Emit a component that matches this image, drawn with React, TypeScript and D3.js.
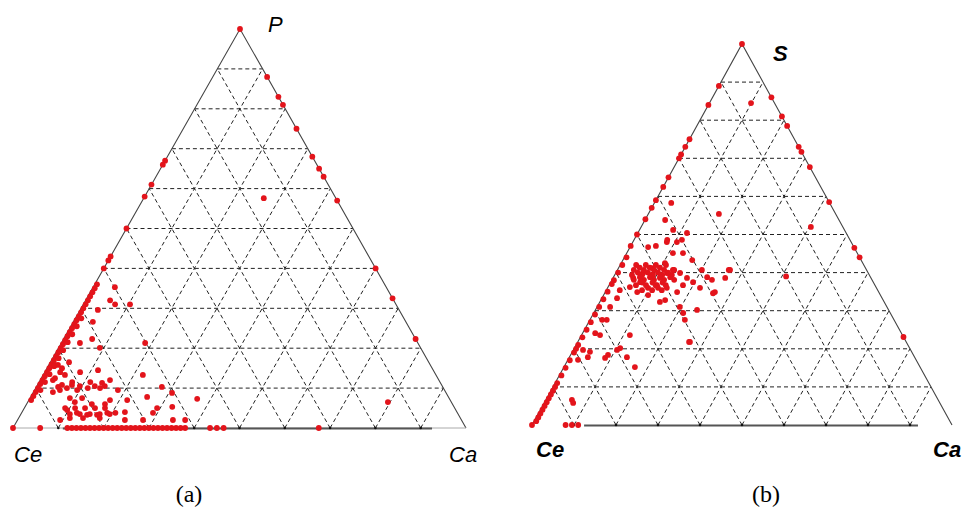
import React, { useEffect } from "react";
import * as d3 from "d3";

// ternary data, every point is [top %, Ca %] (Ce = 100 - top - Ca)
// chart (a): top = P
const aEdgeCe = [
  [67, 0], [66, 0], [61, 0], [58, 0], [50, 0], [43, 0], [42, 0], [40, 0],
  [36, 0.5], [35, 0.5], [34, 0.5], [33, 0.5], [32, 0.5], [31, 0.5], [30, 0.5], [29, 0.5],
  [28, 0.5], [27, 0.5], [26, 0.5], [25, 0.5], [24, 0.5], [23, 0.5], [22, 0.5], [21, 0.5],
  [20, 0.5], [19, 0.5], [18, 0.5], [17, 0.5], [16, 0.5], [15, 0.5], [14, 0.5], [13, 0.5],
  [12, 0.5], [11, 0.5], [10, 0.5], [9, 0.5], [8, 0.5], [7, 0.5],
  [27.5, 1.3], [25.5, 1.3], [23.5, 1.3], [21.5, 1.3], [19.5, 1.3], [17.5, 1.3],
  [15.5, 1.3], [13.5, 1.3], [11.5, 1.3], [9.5, 1.3],
];
const aEdgeCa = [
  [88, 12], [83, 17], [81, 19], [75, 25], [68, 32], [65, 35], [63, 37], [57, 43],
  [40, 60], [32.5, 67.5], [22.3, 77.7],
];
const aBase = [
  [0, 6], [0, 12], [0, 13], [0, 14], [0, 15], [0, 16], [0, 17], [0, 18], [0, 19],
  [0, 20], [0, 21], [0, 22], [0, 23], [0, 24], [0, 25], [0, 26], [0, 27], [0, 28],
  [0, 29], [0, 30], [0, 31], [0, 32], [0, 33], [0, 34], [0, 35], [0, 36], [0, 37],
  [0, 38], [0, 43.5], [0, 45], [0, 46.5], [0, 67.5],
];
const aVertices = [[100, 0], [0, 0]];
const aInner = [
  [31, 7], [31, 10.3], [29.6, 3.9], [26.6, 4.3], [21.3, 4.1], [22.3, 6.3], [20.1, 9.1],
  [21.3, 18.5], [16.5, 4.1], [15, 3.3], [14, 7.8], [14.5, 11.5], [12, 15.4], [13.3, 22],
  [12, 2.8], [10.3, 4.8], [9, 4.3], [10, 6.9], [9.5, 9.4], [10, 11.5], [10, 14.2],
  [9.5, 18.4], [10.3, 27.7], [8.8, 30.7], [7.8, 25.7], [7, 21.7], [7.5, 11.5], [7, 17.9],
  [7.3, 37], [5.3, 32.5], [5, 29.3], [3.8, 29], [4, 22.7], [4.5, 9.7], [3.8, 12.2],
  [3.3, 14.7], [3.3, 16.9], [3.8, 18.9], [3.8, 20.7], [2, 9.4], [2.5, 11.3], [2.5, 14.2],
  [2.5, 17.9], [2, 23.7], [2, 27.7], [2, 34.3], [2, 37], [15.8, 1.3], [13.3, 4.8],
  [11.5, 7.3], [11.5, 11.3], [11.3, 14], [7.5, 8.8], [6.5, 10.4], [6, 14.4], [6, 17.3],
  [35.3, 4.8], [32, 5.4], [57.6, 26.5], [6.5, 79.5],
  [5, 9], [5, 11.2], [5, 13.4], [5, 15.6], [5, 17.8], [3.5, 10.8], [3.5, 13], [3.5, 15.2],
  [3.5, 17.4], [3.5, 19.6], [15.8, 2], [14, 3.4], [12.5, 3], [10.8, 5.4], [10.8, 7.6],
  [9.5, 5.6], [10.5, 9.5], [10.5, 12.8], [10.5, 15],
];

// chart (b): top = S
const bEdgeCe = [
  [89, 0], [84, 0], [75, 0], [73, 0], [71, 0], [70, 0], [65, 0], [62.5, 0], [59, 0],
  [57, 0], [54, 0], [50, 0], [47, 0], [44, 0.5], [42, 0.5], [40, 0.5], [38, 0.5], [37, 0.5],
  [35, 0.5], [33, 0.5], [31, 0.5], [29, 0.5], [27, 0.5], [25, 0.5], [23, 0.5], [21, 0.5],
  [19, 0.5], [17, 0.5], [15, 0.5], [13, 0.5], [11, 0.5], [9, 0.5], [7, 0.5], [5, 0.5],
  [3, 0.5], [1, 0.5], [20, 0.5], [10, 0.5], [8, 0.5], [6, 0.5], [4, 0.5], [2, 0.5],
];
const bEdgeCa = [
  [86, 14], [81, 19], [78.5, 21.5], [73, 27], [71.7, 28.3], [67.7, 32.3], [58.5, 41.5],
  [46.5, 53.5], [44, 56], [23.1, 76.9],
];
const bBase = [[0, 8], [0, 9.5], [0, 11]];
const bVertices = [[100, 0], [0, 0]];
const bInner = [
  [47, 6], [46.7, 4.3], [48, 8.1], [48, 10.5], [50.4, 11.7], [45.1, 11], [45.1, 13.4],
  [43.3, 16.5], [42.5, 10.4], [41.2, 8], [39.9, 6.5], [38.6, 4.8], [36.2, 5.2], [37.5, 7],
  [39.4, 9.1], [38.6, 11.2], [36.7, 11.4], [39.9, 12.2], [40.7, 13.2], [39.9, 15.3],
  [38.6, 17.6], [37.5, 19.6], [36.7, 17.6], [40.7, 20.1], [38.8, 22.3], [38.1, 23.8],
  [40.7, 26.8], [38.6, 26.7], [36, 22], [34.9, 26.1], [34.9, 17.1], [32.8, 15.3],
  [32.3, 14.3], [34.1, 10.6], [34.9, 7.6], [36, 14.1], [31, 19.7], [29.4, 21.3],
  [27.6, 22.6], [30.2, 24.2], [21.8, 26.7], [35.4, 3.2], [33.3, 3.6], [31, 3.1],
  [27.6, 2.9], [27.6, 4], [24.1, 3], [23.6, 4.4], [23.6, 11.5], [19.7, 2.3], [19.2, 4.2],
  [18.4, 8.9], [17.6, 8.6], [19.7, 10.4], [17.8, 13.7], [15.2, 16.9], [17.1, 2.4],
  [6.6, 6.2], [5.8, 6.9], [17.8, 4.4], [20.2, 10.9],
  [58.3, 4], [53.8, 4.8], [51.2, 8], [48.6, 11.4], [48.6, 7.9],
  [84.5, 9.9], [52, 40.4], [39, 41], [55.4, 16.8], [21.8, 26.5], [40.7, 26.5], [34.6, 25.8],
];
// the solid core of the (b) cluster
const bBlob = [
  [42, 3.8], [42, 6.1], [42, 8.5], [42, 10.9],
  [40.7, 3.9], [40.7, 6.3], [40.7, 8.7], [40.7, 11.1], [40.7, 13.5],
  [39.4, 4.1], [39.4, 6.5], [39.4, 8.9], [39.4, 11.3], [39.4, 13.6],
  [38.1, 5.2], [38.1, 7.6], [38.1, 10], [38.1, 12.4], [38.1, 14.8],
  [36.7, 6.4], [36.7, 8.8], [36.7, 11.1], [36.7, 13.5],
  [35.4, 8.5], [35.4, 10.9], [35.4, 13.2],
  [41.3, 5], [41.3, 7.4], [41.3, 9.8], [40, 5.2], [40, 7.6], [40, 10], [40, 12.4],
  [38.8, 6.3], [38.8, 8.7], [38.8, 11.1], [38.8, 13.5], [37.4, 7.6], [37.4, 10],
  [37.4, 12.4], [36, 9.6], [36, 12],
];

const RED = "#e3141b";

type Chart = {
  ce: [number, number];
  ca: [number, number];
  top: [number, number];
  axis: [number, number];
  faintBase: boolean;
  sets: number[][][];
  labels: { top: string; x: number; y: number }[];
  bold: boolean;
  caption: string;
  capX: number;
};

const charts: Chart[] = [
  {
    ce: [13, 428], ca: [466, 428], top: [240, 29],
    axis: [0.11, 0.925], faintBase: true,
    sets: [aEdgeCe, aEdgeCa, aBase, aVertices, aInner],
    labels: [{ top: "P", x: 268, y: 32 }, { top: "Ce", x: 14, y: 462 }, { top: "Ca", x: 449, y: 462 }],
    bold: false, caption: "(a)", capX: 189,
  },
  {
    ce: [532, 425], ca: [952, 425], top: [742, 44],
    axis: [0.124, 0.919], faintBase: false,
    sets: [bEdgeCe, bEdgeCa, bBase, bVertices, bInner, bBlob],
    labels: [{ top: "S", x: 773, y: 61 }, { top: "Ce", x: 536, y: 457 }, { top: "Ca", x: 933, y: 457 }],
    bold: true, caption: "(b)", capX: 766,
  },
];

function Ternary({ c }: { c: Chart }) {
  // top share -> vertical position, Ca share -> share of the base width
  const y = d3.scaleLinear().domain([0, 100]).range([c.ce[1], c.top[1]]);
  const xTop = d3.scaleLinear().domain([0, 100]).range([c.ce[0], c.top[0]]);
  const xCa = d3.scaleLinear().domain([0, 100]).range([0, c.ca[0] - c.ce[0]]);
  const p = (t: number, a: number): [number, number] => [xTop(t) + xCa(a), y(t)];

  const steps = d3.range(10, 100, 10);
  const grid: [number, number][][] = [];
  steps.forEach((k) => {
    grid.push([p(k, 0), p(k, 100 - k)]);
    grid.push([p(0, k), p(100 - k, k)]);
    grid.push([p(0, 100 - k), p(100 - k, 0)]);
  });
  const line = d3.line();
  const outline = line([c.ce, c.top, c.ca]) as string;

  const font = "'Liberation Sans', Arial, sans-serif";
  return (
    <g>
      {grid.map((g, i) => (
        <path key={i} d={line(g) as string} stroke="#222" strokeWidth={1} strokeDasharray="4,3" fill="none" />
      ))}
      <path d={outline} stroke="#444" strokeWidth={1.1} fill="none" />
      {c.faintBase && (
        <line x1={c.ce[0]} y1={c.ce[1]} x2={c.ca[0]} y2={c.ca[1]} stroke="#aaa" strokeWidth={1} />
      )}
      <line
        x1={p(0, c.axis[0] * 100)[0]} y1={c.ce[1] + 0.5}
        x2={p(0, c.axis[1] * 100)[0]} y2={c.ce[1] + 0.5}
        stroke="#555" strokeWidth={2}
      />
      {steps.map((k) => {
        const [bx, by] = p(0, k);
        return <circle key={k} cx={bx} cy={by} r={1.3} fill="#111" />;
      })}
      {c.sets.map((s, si) =>
        s.map((d, i) => {
          const [px, py] = p(d[0], d[1]);
          return <circle key={si + "-" + i} cx={px} cy={py} r={2.9} fill={RED} />;
        })
      )}
      {c.labels.map((l) => (
        <text
          key={l.top} x={l.x} y={l.y} fontFamily={font} fontSize={22}
          fontStyle="italic" fontWeight={c.bold ? "bold" : "normal"} fill="#000"
        >
          {l.top}
        </text>
      ))}
      <text x={c.capX} y={502} textAnchor="middle" fontFamily="'Liberation Serif', 'Times New Roman', serif" fontSize={24} fill="#000">
        {c.caption}
      </text>
    </g>
  );
}

export default function App() {
  useEffect(() => {
    document.body.style.margin = "0";
  }, []);
  return (
    <svg width={968} height={511} style={{ display: "block", background: "#fff" }}>
      {charts.map((c, i) => (
        <Ternary key={i} c={c} />
      ))}
    </svg>
  );
}
